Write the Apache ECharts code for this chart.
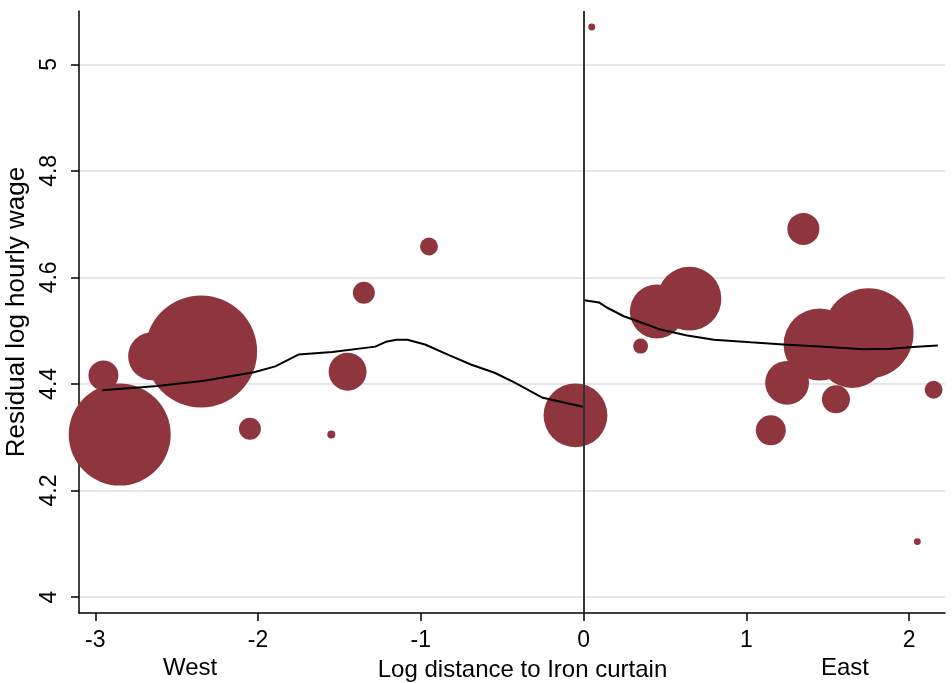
<!DOCTYPE html>
<html>
<head>
<meta charset="utf-8">
<script src="https://cdn.jsdelivr.net/npm/echarts@6/dist/echarts.min.js"></script>
<style>
  html, body { margin: 0; padding: 0; background: #fff; }
  #chart { width: 952px; height: 683px; }
</style>
</head>
<body>
<div id="chart"></div>
<script>
// binned log distance to the Iron curtain (negative = West, positive = East)
const binX = [-2.85, -2.95, -2.65, -2.35, -2.05, -1.55, -1.45, -1.35, -0.95, -0.05,
  0.05, 0.35, 0.45, 0.65, 1.15, 1.25, 1.35, 1.45, 1.55, 1.65, 1.75, 2.05, 2.15]
const binWage = [4.305, 4.416, 4.452, 4.461, 4.316, 4.305, 4.423, 4.571, 4.658, 4.341,
  5.070, 4.471, 4.536, 4.560, 4.313, 4.402, 4.691, 4.474, 4.371, 4.458, 4.495, 4.104, 4.389]
const binObs = [2600, 225, 580, 3140, 120, 16, 360, 120, 80, 1020,
  12, 56, 730, 1020, 225, 480, 256, 1300, 196, 1220, 2030, 12, 80]

// lowess fit, west side
const westX = [-2.957, -2.617, -2.332, -2.025, -1.894, -1.752, -1.544, -1.280, -1.215, -1.149,
  -1.083, -0.974, -0.820, -0.689, -0.547, -0.426, -0.251, -0.005]
const westY = [4.388, 4.396, 4.406, 4.422, 4.433, 4.455, 4.460, 4.470, 4.479, 4.483,
  4.483, 4.474, 4.453, 4.436, 4.421, 4.403, 4.374, 4.357]
// lowess fit, east side
const eastX = [0.004, 0.094, 0.145, 0.247, 0.329, 0.472, 0.636, 0.800, 1.025, 1.229,
  1.474, 1.720, 1.883, 2.047, 2.176]
const eastY = [4.557, 4.553, 4.543, 4.527, 4.518, 4.502, 4.491, 4.483, 4.478, 4.474,
  4.470, 4.465, 4.466, 4.470, 4.472]

const xTicks = [-3, -2, -1, 0, 1, 2]
const yTicks = [4, 4.2, 4.4, 4.6, 4.8, 5]

const font = 'Liberation Sans, Arial, sans-serif'
const dotColor = '#8e353e'

const chart = echarts.init(document.getElementById('chart'), null, { renderer: 'canvas' })

const bubbles = binX.map((x, i) => [x, binWage[i], binObs[i]])
const pair = (xs, ys) => xs.map((x, i) => [x, ys[i]])

chart.setOption({
  backgroundColor: '#fff',
  animation: false,
  textStyle: { fontFamily: font },
  grid: { left: 79, right: 7, top: 11, bottom: 70, containLabel: false, outerBoundsMode: 'none' },
  xAxis: {
    type: 'value',
    min: -3.1,
    max: 2.22,
    name: 'Log distance to Iron curtain',
    nameLocation: 'middle',
    nameGap: 45,
    nameTextStyle: { color: '#000', fontSize: 24, fontFamily: font, padding: [0, 0, 0, 21] },
    axisLine: { onZero: false, lineStyle: { color: '#000', width: 1.5 } },
    axisTick: { length: 8, customValues: xTicks, lineStyle: { color: '#000', width: 1.5 } },
    axisLabel: {
      customValues: xTicks, color: '#000', fontSize: 23, margin: 16,
      formatter: v => String(v)
    },
    splitLine: { show: false }
  },
  yAxis: {
    type: 'value',
    min: 3.97,
    max: 5.1,
    name: 'Residual log hourly wage',
    nameLocation: 'middle',
    nameGap: 44,
    nameTextStyle: { color: '#000', fontSize: 26, fontFamily: font },
    axisLine: { onZero: false, lineStyle: { color: '#000', width: 1.5 } },
    axisTick: { length: 8, customValues: yTicks, lineStyle: { color: '#000', width: 1.5 } },
    axisLabel: {
      customValues: yTicks, color: '#000', fontSize: 23, rotate: 90, margin: 18,
      formatter: v => String(+v.toFixed(1))
    },
    splitLine: { show: true, lineStyle: { color: '#e6e6e6', width: 2 } }
  },
  graphic: [
    { type: 'text', left: 163, top: 656, style: { text: 'West', fontSize: 24, fontFamily: font, fill: '#000' } },
    { type: 'text', left: 821, top: 656, style: { text: 'East', fontSize: 24, fontFamily: font, fill: '#000' } }
  ],
  series: [
    {
      type: 'scatter',
      data: bubbles,
      symbolSize: d => 2 * Math.sqrt(d[2]),
      itemStyle: { color: dotColor, opacity: 1 },
      markLine: {
        silent: true,
        symbol: 'none',
        label: { show: false },
        lineStyle: { color: '#333', width: 2, type: 'solid' },
        data: [{ xAxis: 0 }]
      },
      z: 2
    },
    {
      type: 'line',
      data: pair(westX, westY),
      showSymbol: false,
      lineStyle: { color: '#000', width: 2 },
      z: 3
    },
    {
      type: 'line',
      data: pair(eastX, eastY),
      showSymbol: false,
      lineStyle: { color: '#000', width: 2 },
      z: 3
    }
  ]
})
</script>
</body>
</html>
